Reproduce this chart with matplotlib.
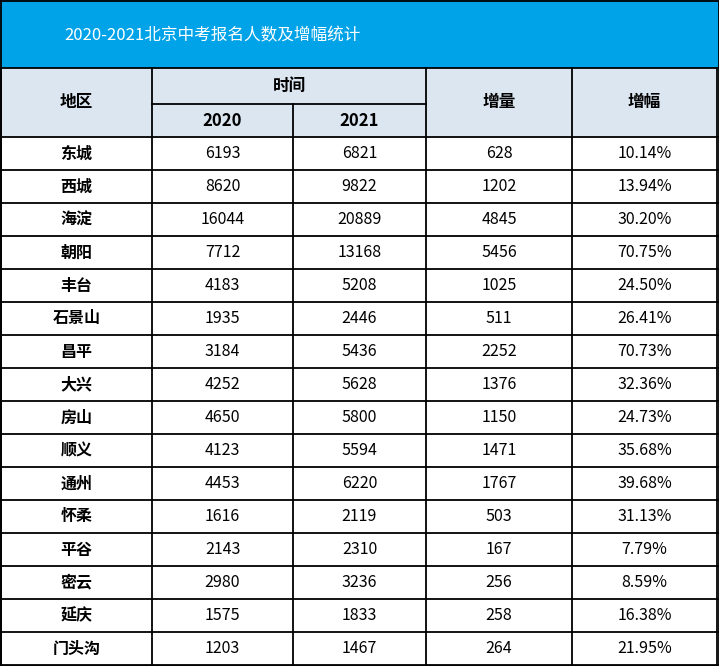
import matplotlib.pyplot as plt
from matplotlib.patches import Rectangle

plt.rcParams['font.family'] = ['Noto Sans CJK SC', 'DejaVu Sans']

TITLE = "2020-2021北京中考报名人数及增幅统计"
regions = ["东城", "西城", "海淀", "朝阳", "丰台", "石景山", "昌平", "大兴",
           "房山", "顺义", "通州", "怀柔", "平谷", "密云", "延庆", "门头沟"]
count_2020 = [6193, 8620, 16044, 7712, 4183, 1935, 3184, 4252,
              4650, 4123, 4453, 1616, 2143, 2980, 1575, 1203]
count_2021 = [6821, 9822, 20889, 13168, 5208, 2446, 5436, 5628,
              5800, 5594, 6220, 2119, 2310, 3236, 1833, 1467]
increase = [628, 1202, 4845, 5456, 1025, 511, 2252, 1376,
            1150, 1471, 1767, 503, 167, 256, 258, 264]
growth_pct = [10.14, 13.94, 30.20, 70.75, 24.50, 26.41, 70.73, 32.36,
              24.73, 35.68, 39.68, 31.13, 7.79, 8.59, 16.38, 21.95]

# layout in pixels
W, H = 719, 666
col_x = [1, 152, 293, 426, 572, 717]
title_bottom = 68
head_mid = 104
head_bottom = 137
row_h = 33

BLUE = '#00A3E8'
HEAD_BG = '#DCE6F1'
LW = 1.3

fig = plt.figure(figsize=(W / 100, H / 100), dpi=100)
ax = fig.add_axes([0, 0, 1, 1])
ax.set_xlim(0, W)
ax.set_ylim(H, 0)
ax.axis('off')

# title band
ax.add_patch(Rectangle((0, 0), W, title_bottom, facecolor=BLUE, edgecolor='none'))
ax.text(64, 36, TITLE, color='white', fontsize=12, ha='left', va='center')

# header background
ax.add_patch(Rectangle((0, title_bottom), W, head_bottom - title_bottom,
                       facecolor=HEAD_BG, edgecolor='none'))

n = len(regions)
table_bottom = head_bottom + n * row_h

# horizontal lines
ax.plot([0, W], [title_bottom, title_bottom], color='black', lw=LW)
ax.plot([col_x[1], col_x[3]], [head_mid, head_mid], color='black', lw=LW)
for i in range(n + 1):
    y = head_bottom + i * row_h
    ax.plot([0, W], [y, y], color='black', lw=LW)

# vertical lines
for j, x in enumerate(col_x):
    y0 = title_bottom
    if j == 2:
        y0 = head_mid
    ax.plot([x, x], [y0, table_bottom], color='black', lw=LW)

# outer border
ax.plot([0.5, W - 0.5, W - 0.5, 0.5, 0.5], [0.5, 0.5, H - 0.5, H - 0.5, 0.5],
        color='black', lw=LW)

def cx(j):
    return (col_x[j] + col_x[j + 1]) / 2

hfs = 12
ax.text(cx(0), (title_bottom + head_bottom) / 2, "地区", fontsize=hfs,
        fontweight='bold', ha='center', va='center')
ax.text((col_x[1] + col_x[3]) / 2, (title_bottom + head_mid) / 2, "时间",
        fontsize=hfs, fontweight='bold', ha='center', va='center')
ax.text(cx(1), (head_mid + head_bottom) / 2, "2020", fontsize=hfs,
        fontweight='bold', ha='center', va='center')
ax.text(cx(2), (head_mid + head_bottom) / 2, "2021", fontsize=hfs,
        fontweight='bold', ha='center', va='center')
ax.text(cx(3), (title_bottom + head_bottom) / 2, "增量", fontsize=hfs,
        fontweight='bold', ha='center', va='center')
ax.text(cx(4), (title_bottom + head_bottom) / 2, "增幅", fontsize=hfs,
        fontweight='bold', ha='center', va='center')

fs = 11.5
for i in range(n):
    yc = head_bottom + (i + 0.5) * row_h
    ax.text(cx(0), yc, regions[i], fontsize=fs, fontweight='bold',
            ha='center', va='center')
    ax.text(cx(1), yc, str(count_2020[i]), fontsize=fs, ha='center', va='center')
    ax.text(cx(2), yc, str(count_2021[i]), fontsize=fs, ha='center', va='center')
    ax.text(cx(3), yc, str(increase[i]), fontsize=fs, ha='center', va='center')
    ax.text(cx(4), yc, f"{growth_pct[i]:.2f}%", fontsize=fs, ha='center', va='center')

fig.savefig('out.png', dpi=100)
